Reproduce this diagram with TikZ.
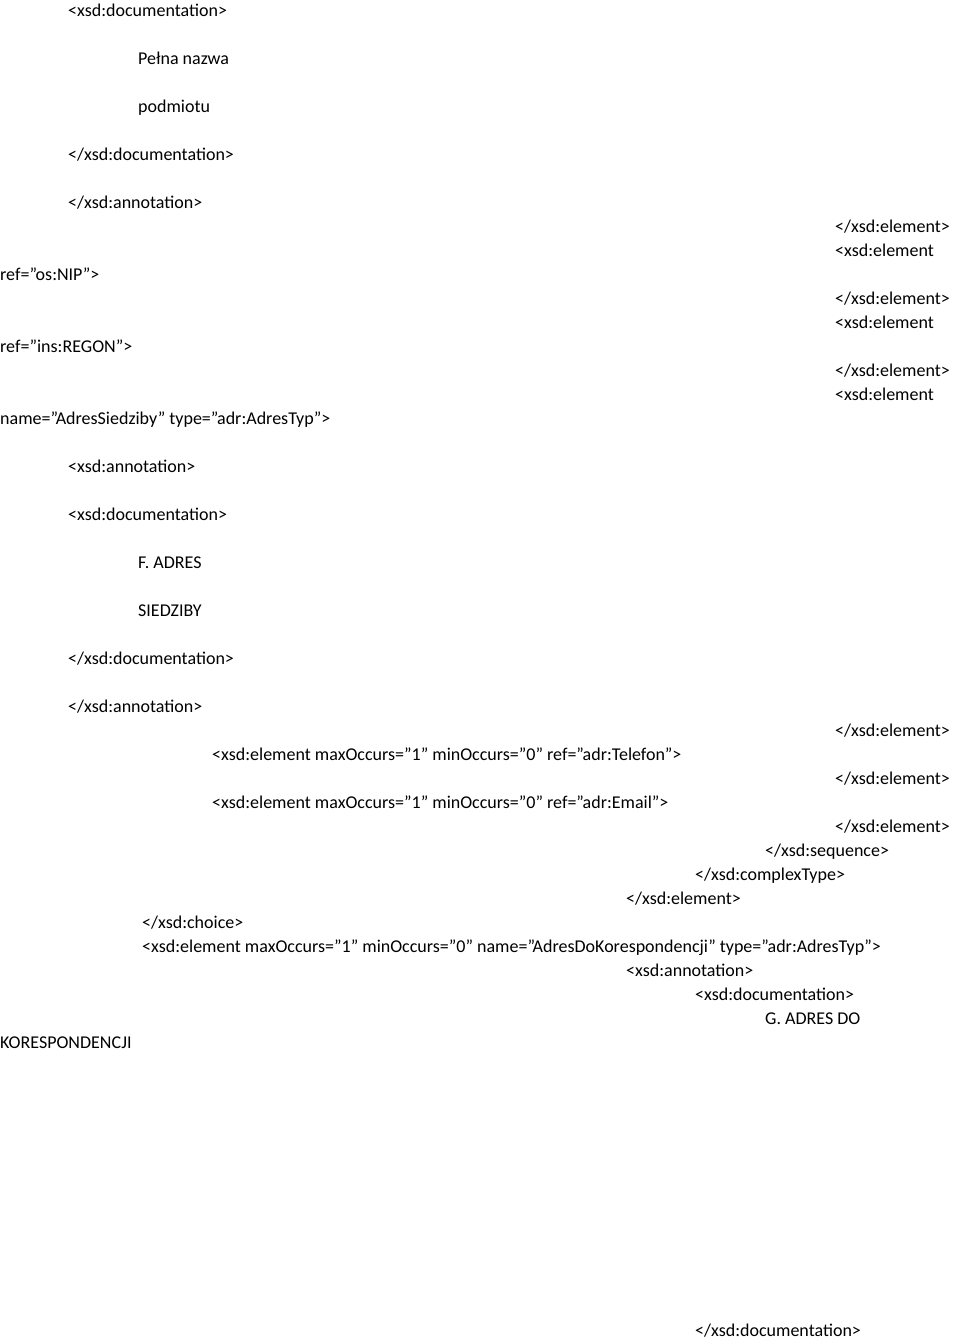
\documentclass[tikz,border=0pt]{standalone}
\usepackage{fontspec}
\setmainfont{Carlito}
\usetikzlibrary{positioning}
\begin{document}
\begin{tikzpicture}[x=1pt, y=-1pt, every node/.style={font=\fontsize{18}{20}\selectfont, anchor=base west, inner sep=0pt}]
            \useasboundingbox (0,0) rectangle (960,1342);
            \clip (0,0) rectangle (960,1342);
            % Upper block
            \node (docA) at (68,16) {<xsd:documentation>};
            \node (nameA) at (138,64) {Pełna nazwa};
            \node (nameB) at (138,112) {podmiotu};
            \node (docAend) at (68,160) {</xsd:documentation>};
            \node (annAend) at (68,208) {</xsd:annotation>};

            % Right column
            \node (elA) at (835,232) {</xsd:element>};
            \node (elB) at (835,256) {<xsd:element};
            \node (nip) at (0,280) {ref="os:NIP">};
            \node (elC) at (835,304) {</xsd:element>};
            \node (elD) at (835,328) {<xsd:element};
            \node (regon) at (0,352) {ref="ins:REGON">};
            \node (elE) at (835,376) {</xsd:element>};
            \node (elF) at (835,400) {<xsd:element};
            \node (siedz) at (0,424) {name="AdresSiedziby" type="adr:AdresTyp">};

            % Middle block
            \node (annB) at (68,472) {<xsd:annotation>};
            \node (docB) at (68,520) {<xsd:documentation>};
            \node (adrA) at (138,568) {F. ADRES};
            \node (adrB) at (138,616) {SIEDZIBY};
            \node (docBend) at (68,664) {</xsd:documentation>};
            \node (annBend) at (68,712) {</xsd:annotation>};

            % Lower block
            \node (elG) at (835,736) {</xsd:element>};
            \node (tel) at (212,760) {<xsd:element maxOccurs="1" minOccurs="0" ref="adr:Telefon">};
            \node (elH) at (835,784) {</xsd:element>};
            \node (mail) at (212,808) {<xsd:element maxOccurs="1" minOccurs="0" ref="adr:Email">};
            \node (elI) at (835,832) {</xsd:element>};
            \node (seq) at (765,856) {</xsd:sequence>};
            \node (ctype) at (695,880) {</xsd:complexType>};
            \node (elJ) at (626,904) {</xsd:element>};
            \node (choice) at (142,928) {</xsd:choice>};
            \node (kor) at (142,952) {<xsd:element maxOccurs="1" minOccurs="0" name="AdresDoKorespondencji" type="adr:AdresTyp">};
            \node (annC) at (626,976) {<xsd:annotation>};
            \node (docC) at (695,1000) {<xsd:documentation>};
            \node (adrC) at (765,1024) {G. ADRES DO};
            \node (adrD) at (0,1048) {KORESPONDENCJI};
            \node (docCend) at (695,1336) {</xsd:documentation>};
\end{tikzpicture}
\end{document}
